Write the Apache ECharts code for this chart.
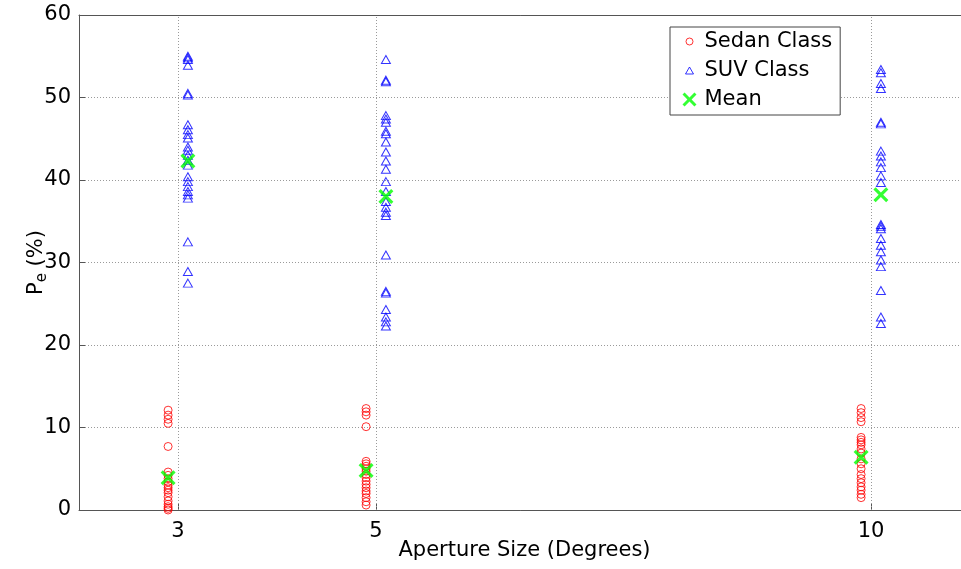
<!DOCTYPE html>
<html>
<head>
<meta charset="utf-8">
<title>Pe vs Aperture Size</title>
<script src="https://cdn.jsdelivr.net/npm/echarts@6/dist/echarts.min.js"></script>
<style>
  html, body { margin: 0; padding: 0; background: #fff; }
  #chart { width: 961px; height: 569px; }
</style>
</head>
<body>
<div id="chart"></div>
<script>
// Aperture sizes (degrees) shown on the x axis
const apertureSizes = [3, 5, 10];

// Pe (%) per vehicle, Sedan class, one list per aperture size
const sedanAt3 = [12.1, 11.5, 11.0, 10.5, 7.7, 4.6, 4.2, 3.8, 3.4, 3.0, 2.7, 2.4, 2.1, 1.6, 1.1, 0.7, 0.4, 0.2, 0.0];
const sedanAt5 = [12.3, 11.9, 11.5, 10.1, 5.9, 5.6, 5.3, 5.0, 4.7, 4.3, 3.9, 3.5, 3.1, 2.7, 2.3, 2.0, 1.5, 1.0, 0.6];
const sedanAt10 = [12.3, 11.8, 11.2, 10.7, 8.8, 8.5, 8.2, 7.9, 7.4, 6.9, 6.2, 5.6, 5.0, 4.3, 3.8, 3.3, 2.8, 2.4, 1.9, 1.5];

// Pe (%) per vehicle, SUV class
const suvAt3 = [55.0, 54.8, 54.6, 53.9, 50.5, 50.3, 46.7, 46.1, 45.5, 45.1, 44.0, 43.6, 43.0, 42.4, 41.8, 40.4, 39.8, 39.2, 38.6, 38.2, 37.8, 32.5, 28.9, 27.5];
const suvAt5 = [54.6, 52.1, 51.9, 47.8, 47.4, 47.0, 45.9, 45.6, 44.6, 43.4, 42.3, 41.3, 39.8, 38.6, 37.4, 36.7, 36.1, 35.7, 30.9, 26.5, 26.3, 24.3, 23.4, 22.8, 22.3];
const suvAt10 = [53.4, 53.0, 51.7, 51.1, 47.0, 46.8, 43.5, 42.9, 42.2, 41.5, 40.5, 39.7, 34.6, 34.4, 34.1, 32.9, 32.1, 31.3, 30.3, 29.5, 26.6, 23.4, 22.6];

// Class means per aperture size
const sedanMean = [3.9, 4.8, 6.4];
const suvMean = [42.3, 38.0, 38.2];

// Axis ranges and y ticks
const xRange = [2, 11];
const yTickMin = 0, yTickMax = 60, yTickStep = 10;

// Horizontal shift of each class around its aperture value
const SEDAN_SHIFT = -0.1;
const SUV_SHIFT = 0.1;

const FONT = 'DejaVu Sans';
const AXIS_COLOR = '#555';
const DOT_STYLE = { type: [1, 2], color: '#9a9a9a', width: 1 };

function spread(size, values, shift) {
  return values.map(v => [size + shift, v]);
}

const sedanData = [].concat(
  spread(apertureSizes[0], sedanAt3, SEDAN_SHIFT),
  spread(apertureSizes[1], sedanAt5, SEDAN_SHIFT),
  spread(apertureSizes[2], sedanAt10, SEDAN_SHIFT)
);
const suvData = [].concat(
  spread(apertureSizes[0], suvAt3, SUV_SHIFT),
  spread(apertureSizes[1], suvAt5, SUV_SHIFT),
  spread(apertureSizes[2], suvAt10, SUV_SHIFT)
);
const meanData = [];
apertureSizes.forEach((s, i) => {
  meanData.push([s + SEDAN_SHIFT, sedanMean[i]]);
  meanData.push([s + SUV_SHIFT, suvMean[i]]);
});

// Thick X marker
const CROSS = 'path://M0,1.5L1.5,0L5,3.5L8.5,0L10,1.5L6.5,5L10,8.5L8.5,10L5,6.5L1.5,10L0,8.5L3.5,5Z';
// Legend icons drawn inside a 20x16 box (corner moves keep the box size)
const LEG_CIRCLE = 'path://M0,0M20,16M13.5,8A3.5,3.5,0,1,1,6.5,8A3.5,3.5,0,1,1,13.5,8Z';
const LEG_TRIANGLE = 'path://M0,0M20,16M6,11.5L14,11.5L10,4.5Z';
const LEG_CROSS = 'path://M0,0M20,16M3,3.1L5.1,1L10,5.9L14.9,1L17,3.1L12.1,8L17,12.9L14.9,15L10,10.1L5.1,15L3,12.9L7.9,8Z';

const chart = echarts.init(document.getElementById('chart'), null, { renderer: 'canvas' });

chart.setOption({
  animation: false,
  backgroundColor: '#fff',
  grid: {
    left: 79, top: 15, bottom: 59, right: -9,
    outerBoundsMode: 'none',
    containLabel: false,
    show: false
  },
  legend: {
    orient: 'vertical',
    left: 670, top: 27,
    padding: [4, 8, 5, 9],
    itemGap: 8,
    itemWidth: 20, itemHeight: 16,
    backgroundColor: '#fff',
    borderColor: '#444', borderWidth: 1, borderRadius: 0,
    textStyle: { fontFamily: FONT, fontSize: 21, color: '#000' },
    data: [
      { name: 'Sedan Class', icon: LEG_CIRCLE, itemStyle: { color: 'rgba(0,0,0,0)', borderColor: '#ff0000', borderWidth: 1 } },
      { name: 'SUV Class', icon: LEG_TRIANGLE, itemStyle: { color: 'rgba(0,0,0,0)', borderColor: '#0000ff', borderWidth: 1 } },
      { name: 'Mean', icon: LEG_CROSS, itemStyle: { color: '#00ff00', borderWidth: 0 } }
    ]
  },
  xAxis: [
    {
      type: 'value',
      min: xRange[0], max: xRange[1],
      name: 'Aperture Size (Degrees)',
      nameLocation: 'middle',
      nameGap: 30,
      nameMoveOverlap: false,
      nameTextStyle: { fontFamily: FONT, fontSize: 21, color: '#000' },
      axisLine: { show: true, onZero: false, lineStyle: { color: AXIS_COLOR, width: 1 } },
      axisTick: { show: true, inside: true, length: 6, customValues: apertureSizes, lineStyle: { color: AXIS_COLOR } },
      axisLabel: { customValues: apertureSizes, fontFamily: FONT, fontSize: 21, color: '#000', margin: 11 },
      splitLine: { show: false }
    },
    {
      // top edge of the plot box
      type: 'value',
      position: 'top',
      min: xRange[0], max: xRange[1],
      axisLine: { show: true, onZero: false, lineStyle: { color: AXIS_COLOR, width: 1 } },
      axisTick: { show: false },
      axisLabel: { show: false },
      splitLine: { show: false }
    }
  ],
  yAxis: {
    type: 'value',
    min: yTickMin, max: yTickMax, interval: yTickStep,
    name: '{p|P}{e|e}{p| (%)}',
    nameLocation: 'middle',
    nameGap: 29,
    nameMoveOverlap: false,
    nameRotate: 90,
    nameTextStyle: {
      fontFamily: FONT, fontSize: 21, color: '#000',
      rich: {
        p: { fontFamily: FONT, fontSize: 21, color: '#000' },
        e: { fontFamily: FONT, fontSize: 15, color: '#000', padding: [12, 0, 0, 0] }
      }
    },
    axisLine: { show: true, lineStyle: { color: AXIS_COLOR, width: 1 } },
    axisTick: { show: true, inside: true, length: 6, lineStyle: { color: AXIS_COLOR } },
    axisLabel: { fontFamily: FONT, fontSize: 21, color: '#000', margin: 8 },
    splitLine: { show: true, lineStyle: DOT_STYLE }
  },
  series: [
    {
      name: 'grid-x',
      type: 'scatter',
      data: [],
      z: 1,
      silent: true,
      markLine: {
        silent: true,
        symbol: ['none', 'none'],
        label: { show: false },
        lineStyle: DOT_STYLE,
        emphasis: { disabled: true },
        data: apertureSizes.map(s => ({ xAxis: s }))
      }
    },
    {
      name: 'Sedan Class',
      type: 'scatter',
      symbol: 'circle',
      symbolSize: 8,
      itemStyle: { color: 'rgba(0,0,0,0)', borderColor: '#ff0000', borderWidth: 1 },
      data: sedanData,
      z: 3
    },
    {
      name: 'SUV Class',
      type: 'scatter',
      symbol: 'triangle',
      symbolSize: [9, 8],
      itemStyle: { color: 'rgba(0,0,0,0)', borderColor: '#0000ff', borderWidth: 1 },
      data: suvData,
      z: 3
    },
    {
      name: 'Mean',
      type: 'scatter',
      symbol: CROSS,
      symbolSize: 15,
      itemStyle: { color: '#00ff00' },
      data: meanData,
      z: 4
    }
  ]
});
</script>
</body>
</html>
